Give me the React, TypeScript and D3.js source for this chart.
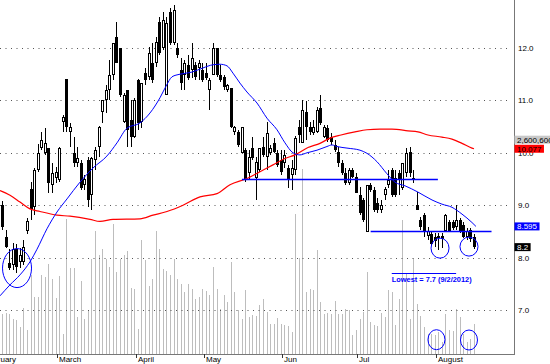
import React from 'react'
import * as d3 from 'd3'

const WIDTH = 550
const HEIGHT = 364
const PLOT_RIGHT = 514
const PLOT_BOTTOM = 354
const FONT = 'Liberation Sans, Arial, sans-serif'

// daily candles [open, high, low, close], 8 Feb - 14 Aug 2012
const ohlc = [
  [9.00, 9.08, 8.53, 8.58], [8.39, 8.53, 8.18, 8.20], [7.90, 8.16, 7.76, 7.80], [7.86, 8.28, 7.76, 8.16],
  [8.16, 8.26, 7.70, 7.82], [7.92, 8.18, 7.80, 8.05], [7.92, 8.34, 7.86, 8.20], [8.51, 8.76, 8.45, 8.70],
  [9.31, 9.44, 8.72, 8.93], [8.97, 9.71, 8.81, 9.67], [9.67, 10.17, 9.63, 10.00], [10.09, 10.40, 10.05, 10.24],
  [10.00, 10.47, 9.96, 10.19], [10.09, 10.09, 9.23, 9.42], [9.39, 9.81, 9.23, 9.62], [9.52, 9.73, 9.42, 9.63],
  // March
  [9.48, 10.11, 9.44, 10.09], [10.59, 10.72, 10.40, 10.68], [11.41, 11.41, 10.40, 10.49], [10.40, 10.57, 10.11, 10.49],
  [10.00, 10.30, 9.73, 9.81], [9.81, 10.11, 9.73, 9.90], [9.81, 9.86, 9.29, 9.33], [9.39, 9.58, 9.29, 9.50],
  [9.86, 9.92, 8.97, 9.10], [9.19, 9.92, 8.91, 9.90], [9.86, 10.11, 9.67, 10.05], [10.11, 10.51, 9.92, 10.49],
  [10.78, 11.01, 10.57, 11.01], [11.01, 11.29, 10.76, 11.20], [11.20, 11.77, 11.01, 11.48], [11.48, 12.10, 11.39, 12.10],
  [12.21, 12.50, 11.71, 11.71], [12.00, 12.00, 11.06, 11.10], [10.59, 11.14, 10.57, 11.10], [11.20, 11.20, 10.11, 10.43],
  [10.63, 11.01, 10.11, 10.30], [10.30, 11.05, 10.28, 11.01],
  // April
  [11.39, 11.41, 10.43, 10.57], [10.59, 11.33, 10.47, 11.33], [11.52, 11.62, 11.29, 11.39], [11.45, 12.02, 11.39, 11.90],
  [11.71, 12.10, 11.33, 11.39], [11.71, 12.21, 11.64, 12.11], [12.50, 12.59, 11.87, 11.90], [12.00, 12.69, 11.96, 12.53],
  [11.10, 12.59, 11.10, 12.48], [12.69, 12.76, 12.06, 12.10], [12.10, 12.82, 12.06, 12.73], [12.00, 12.10, 11.81, 11.87],
  [11.58, 11.81, 11.20, 11.33], [11.48, 11.77, 11.20, 11.71], [11.68, 11.87, 11.39, 11.43], [11.58, 12.10, 11.43, 11.81],
  [11.68, 11.73, 11.39, 11.45], [11.62, 11.77, 11.39, 11.71], [11.58, 11.71, 11.35, 11.39],
  // May
  [11.52, 11.71, 11.39, 11.43], [11.20, 11.43, 10.82, 11.39], [11.48, 12.10, 11.48, 12.00], [12.00, 12.00, 11.45, 11.48],
  [11.48, 11.68, 11.35, 11.39], [11.45, 11.48, 11.20, 11.26], [11.20, 11.31, 11.16, 11.29], [11.24, 11.24, 10.47, 10.49],
  [10.40, 10.51, 10.34, 10.49], [10.40, 10.43, 10.11, 10.15], [10.00, 10.49, 10.00, 10.49], [10.05, 10.09, 9.44, 9.48],
  [9.62, 10.05, 9.48, 9.92], [10.09, 10.30, 9.86, 9.90], [9.52, 9.92, 9.10, 9.82], [9.67, 10.09, 9.63, 10.09],
  [10.11, 10.30, 9.92, 9.96], [9.92, 10.59, 9.67, 10.38], [10.00, 10.15, 9.96, 10.09], [10.19, 10.28, 10.00, 10.02],
  [10.00, 10.05, 9.73, 9.77], [9.86, 10.05, 9.58, 9.63],
  // June
  [9.81, 10.05, 9.71, 9.96], [9.71, 9.77, 9.33, 9.48], [9.58, 9.86, 9.29, 9.71], [9.67, 10.32, 9.58, 10.28],
  [10.49, 10.63, 10.19, 10.34], [10.19, 11.01, 10.19, 10.82], [10.78, 10.99, 10.24, 10.49], [10.49, 10.59, 10.34, 10.40],
  [10.38, 10.63, 10.34, 10.49], [10.40, 10.87, 10.38, 10.82], [10.85, 11.10, 10.53, 10.57], [10.30, 10.53, 10.28, 10.49],
  [10.47, 10.53, 10.21, 10.24], [10.30, 10.38, 10.15, 10.21], [10.15, 10.24, 10.02, 10.05], [10.02, 10.11, 9.73, 9.81],
  [9.81, 9.86, 9.58, 9.62], [9.62, 9.71, 9.39, 9.42], [9.42, 9.71, 9.39, 9.67], [9.67, 9.71, 9.52, 9.54],
  [9.54, 9.62, 9.23, 9.23],
  // July
  [9.19, 9.35, 8.81, 8.85], [9.10, 9.14, 8.68, 8.72], [8.49, 9.39, 8.49, 9.39], [9.39, 9.42, 9.25, 9.29],
  [9.29, 9.35, 8.87, 8.91], [9.04, 9.14, 8.85, 8.91], [8.91, 9.10, 8.85, 9.00], [9.19, 9.35, 9.10, 9.31],
  [9.39, 9.67, 9.33, 9.48], [9.67, 9.71, 9.16, 9.19], [9.52, 9.67, 9.16, 9.19], [9.62, 9.67, 9.19, 9.48],
  [9.33, 9.81, 9.29, 9.81], [9.62, 10.09, 9.54, 10.00], [10.02, 10.11, 9.54, 9.62], [9.52, 9.67, 9.42, 9.48],
  [9.00, 9.25, 8.91, 8.91], [8.72, 8.77, 8.53, 8.58], [8.81, 8.85, 8.39, 8.49], [8.41, 8.58, 8.34, 8.51],
  [8.45, 8.49, 8.22, 8.26], [8.39, 8.47, 8.20, 8.32],
  // August
  [8.37, 8.47, 8.15, 8.41], [8.41, 8.47, 8.18, 8.36], [8.51, 8.83, 8.49, 8.81], [8.68, 8.72, 8.49, 8.51],
  [8.68, 8.72, 8.53, 8.56], [8.58, 9.00, 8.53, 8.72], [8.72, 8.76, 8.47, 8.51], [8.62, 8.68, 8.37, 8.39],
  [8.39, 8.56, 8.34, 8.51], [8.53, 8.56, 8.30, 8.36], [8.39, 8.45, 8.16, 8.20],
]

// daily volume, thousand shares
const volume = [
  4000, 4100, 4000, 3500, 3400, 2700, 4600, 2400, 7900, 5700, 5700, 7900, 7700, 9000, 7500,
  5600, 7800, 2000, 13500, 8600, 8600, 3700, 7300, 3500, 4300, 9500, 12300, 9900, 10500, 9500, 8700,
  13000, 8200, 9500, 9900, 10300, 6600,
  6500, 2500, 11400, 9400, 6800, 7500, 12300, 10500, 8500, 8300, 7900, 9500, 7500, 7000, 6200, 7000,
  6500, 5500, 5700,
  6500, 6300, 5900, 8700, 6500, 4500, 5900, 5200, 9200, 6200, 4400, 3500, 6400, 3700, 3900, 3800,
  4900, 5500, 4200, 3000, 3000,
  3600, 3000, 2900, 2800, 2200, 14000, 9600, 18500, 6200, 6500, 6400, 10400, 5200, 4000, 4100, 4000,
  5300, 4000, 4000, 4500, 4400, 1900, 2400, 3500, 4200, 8200, 3200, 2900, 2800, 4100, 3700, 6400,
  6200, 2900, 5500, 13400, 8000, 3500, 9600, 5000, 3800, 2700, 2000, 2000, 1900, 2200, 1200, 4000,
  2400, 2300, 4500, 3700, 2000, 1200, 1500, 3000,
]

// moving averages, [day index, price]
const maShort = [
  [-0.56, 7.27], [2.24, 7.48], [5.03, 7.67], [7.83, 7.92], [9.79, 8.16], [12.58, 8.55], [15.38, 8.87],
  [18.18, 9.12], [21.81, 9.44], [25.45, 9.71], [29.36, 9.94], [32.16, 10.19], [34.96, 10.47], [38.59, 10.57],
  [41.39, 10.76], [44.18, 11.05], [45.86, 11.27], [47.54, 11.45], [49.78, 11.5], [53.13, 11.54], [56.21, 11.62],
  [59.0, 11.68], [60.96, 11.69], [62.92, 11.66], [64.6, 11.52], [66.55, 11.33], [68.51, 11.16], [71.31, 10.95],
  [74.11, 10.66], [76.9, 10.44], [79.14, 10.19], [81.38, 10.0], [83.33, 9.96], [85.29, 10.0], [88.09, 10.05],
  [90.88, 10.12], [92.28, 10.15], [93.68, 10.12], [96.48, 10.09], [100.11, 10.05], [102.07, 9.99],
  [104.87, 9.83], [107.66, 9.6], [109.9, 9.44], [112.7, 9.37], [116.33, 9.25], [120.25, 9.1], [123.04, 9.02],
  [125.84, 8.96], [128.64, 8.83], [131.43, 8.67], [132.55, 8.595],
]
const maLong = [
  [-0.56, 9.28], [2.24, 9.19], [5.03, 9.06], [7.83, 8.93], [10.63, 8.88], [15.38, 8.81], [19.02, 8.79],
  [24.61, 8.73], [27.4, 8.69], [31.04, 8.73], [38.59, 8.74], [42.23, 8.81], [46.14, 8.88], [50.62, 9.0],
  [55.37, 9.16], [60.12, 9.22], [63.76, 9.39], [68.51, 9.51], [72.15, 9.64], [75.78, 9.77], [79.14, 9.89],
  [81.94, 9.96], [85.57, 10.1], [88.93, 10.18], [91.72, 10.28], [94.8, 10.34], [98.71, 10.4], [102.07, 10.44],
  [105.7, 10.45], [109.06, 10.45], [113.53, 10.42], [116.33, 10.4], [119.13, 10.34], [123.04, 10.3],
  [125.84, 10.26], [128.64, 10.18], [131.43, 10.09], [132, 10.077],
]

const priceTicks = [7, 8, 9, 10, 11, 12]
const months = ['February', 'March', 'April', 'May', 'Jun', 'Jul', 'August']
const monthStarts = [-5, 16, 38, 57, 79, 100, 122]

// hand-drawn support lines [price, first day, last day]
const levels = [[9.5, 67.1, 121.9], [8.5, 103.1, 136.9]]
const lowestNote = 'Lowest = 7.7 (9/2/2012)'
const lowestLine = [7.7, 109, 127]
const priceRings = [[4.2, 7.8], [122.5, 8.18], [130.6, 8.21]]
const volumeRings = [[121.5, 1430], [130.6, 1400]]

// last-value tags on the right axis [text, price]
const tags = [['2,600,600', 10.25], ['10.077', 10.077], ['8.595', 8.595], ['8.2', 8.2]]

const tagStyle = [
  { fill: '#c8c8c8', color: '#000' },
  { fill: '#ff0000', color: '#000' },
  { fill: '#0000ff', color: '#fff' },
  { fill: '#000000', color: '#fff' },
]
const ringSize = [[14.5, 19.5], [9, 10], [9, 9.5]]

const textWidth = (s: string) =>
  s.split('').reduce((w, ch) => w + (/[0-9]/.test(ch) ? 0.556 : 0.278), 0) * 8

export default function App() {
  const x = d3.scaleLinear().domain([0, ohlc.length - 1]).range([2, 474])
  const y = d3.scaleLinear().domain([7, 12]).range([310, 48])
  const vy = d3.scaleLinear().domain([0, 10000]).range([PLOT_BOTTOM, PLOT_BOTTOM - 100])
  const px = (i: number) => Math.round(x(i))

  const maLine = d3.line<number[]>()
    .x(d => x(d[0]))
    .y(d => y(d[1]))
    .curve(d3.curveMonotoneX)

  return (
    <svg width={WIDTH} height={HEIGHT} style={{ position: 'absolute', left: 0, top: 0, background: '#fff' }}
      fontFamily={FONT} fontSize={8}>
      <defs>
        <clipPath id="plot">
          <rect x={0} y={0} width={PLOT_RIGHT} height={PLOT_BOTTOM} />
        </clipPath>
      </defs>

      <g clipPath="url(#plot)">
        {volume.map((d, i) => (
          <line key={'v' + i} x1={px(i) + 0.5} x2={px(i) + 0.5} y1={Math.round(vy(d))} y2={PLOT_BOTTOM}
            stroke="#bdbdbd" />
        ))}

        {priceTicks.map(t => (
          <line key={'g' + t} x1={0} x2={508} y1={Math.round(y(t)) + 0.5} y2={Math.round(y(t)) + 0.5}
            stroke="#555" strokeDasharray="1 4.5" />
        ))}

        {ohlc.map(([o, h, l, c], i) => {
          const cx = px(i)
          const top = Math.round(y(Math.max(o, c)))
          const bot = Math.round(y(Math.min(o, c)))
          const up = c >= o
          return (
            <g key={'c' + i}>
              <line x1={cx + 0.5} x2={cx + 0.5} y1={Math.round(y(h))} y2={Math.round(y(l))} stroke="#000" />
              {up
                ? <rect x={cx - 0.5} y={top + 0.5} width={2} height={Math.max(bot - top - 1, 0)}
                    fill="#fff" stroke="#000" />
                : <rect x={cx - 1} y={top} width={3} height={Math.max(bot - top, 1)} fill="#000" />}
            </g>
          )
        })}

        <path d={maLine(maLong) ?? ''} fill="none" stroke="#ff0000" strokeWidth={1.2} />
        <path d={maLine(maShort) ?? ''} fill="none" stroke="#0000ff" strokeWidth={1} />

        {levels.map(([p, a, b], k) => (
          <line key={'l' + k} x1={x(a)} x2={x(b)} y1={Math.round(y(p)) + 0.5} y2={Math.round(y(p)) + 0.5}
            stroke="#0000ff" strokeWidth={1.3} />
        ))}

        {priceRings.map(([i, p], k) => (
          <ellipse key={'r' + k} cx={x(i)} cy={y(p)} rx={ringSize[k][0]} ry={ringSize[k][1]}
            fill="none" stroke="#0000ff" />
        ))}
        {volumeRings.map(([i, q], k) => (
          <ellipse key={'vr' + k} cx={x(i)} cy={vy(q)} rx={8.5} ry={10} fill="none" stroke="#0000ff" />
        ))}

        <line x1={x(lowestLine[1])} x2={x(lowestLine[2])} y1={Math.round(y(lowestLine[0])) + 0.5}
          y2={Math.round(y(lowestLine[0])) + 0.5} stroke="#0000ff" />
        <text x={x(lowestLine[1])} y={y(lowestLine[0]) + 9} fill="#0000ff" fontWeight="bold"
          fontSize={7.4}>{lowestNote}</text>
      </g>

      <line x1={PLOT_RIGHT + 0.5} x2={PLOT_RIGHT + 0.5} y1={0} y2={PLOT_BOTTOM + 1} stroke="#777" />
      <line x1={0} x2={PLOT_RIGHT + 1} y1={PLOT_BOTTOM + 0.5} y2={PLOT_BOTTOM + 0.5} stroke="#777" />

      {monthStarts.map((m, k) => {
        const tx = Math.round(x(m - 0.6))
        return (
          <g key={'m' + k}>
            <line x1={tx + 0.5} x2={tx + 0.5} y1={PLOT_BOTTOM} y2={PLOT_BOTTOM + 4} stroke="#333" />
            <text x={tx + 2} y={PLOT_BOTTOM + 8} fill="#000">{months[k]}</text>
          </g>
        )
      })}

      {priceTicks.map(t => (
        <text key={'t' + t} x={518} y={y(t) + 3} fill="#000">{t.toFixed(1)}</text>
      ))}

      {tags.map(([label, p], k) => {
        const cy = y(p as number)
        return (
          <g key={'tag' + k}>
            <rect x={PLOT_RIGHT + 0.5} y={cy - 4} width={textWidth(label as string) + 5} height={8}
              fill={tagStyle[k].fill} />
            <text x={517} y={cy + 3} fill={tagStyle[k].color}>{label}</text>
          </g>
        )
      })}
    </svg>
  )
}
